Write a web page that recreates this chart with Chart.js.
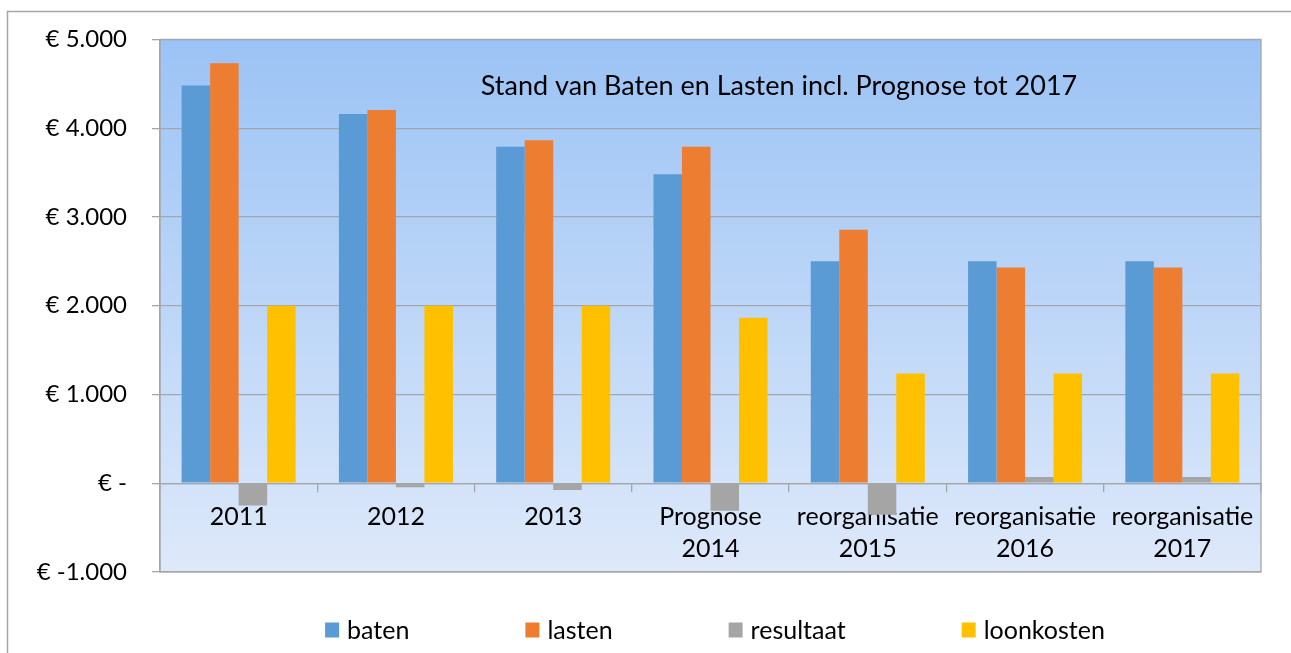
<!DOCTYPE html>
<html>
<head>
<meta charset="utf-8">
<script src="https://cdn.jsdelivr.net/npm/chart.js@4/dist/chart.umd.min.js"></script>
<style>
  html, body { margin: 0; padding: 0; background: #fff; overflow: hidden; }
  #wrap { position: absolute; left: 0; top: 0; width: 1291px; height: 653px; }
</style>
</head>
<body>
<div id="wrap"><canvas id="myChart"></canvas></div>
<script>
// data (x 1000 euro)
var categories = ['2011', '2012', '2013', ['Prognose', '2014'], ['reorganisatie', '2015'], ['reorganisatie', '2016'], ['reorganisatie', '2017']];
var baten = [4480, 4160, 3790, 3480, 2500, 2500, 2500];
var lasten = [4730, 4205, 3865, 3790, 2855, 2430, 2430];
var resultaat = [-250, -45, -75, -310, -355, 70, 70];
var loonkosten = [2000, 2000, 2000, 1865, 1235, 1235, 1235];
var yTicks = [-1000, 0, 1000, 2000, 3000, 4000, 5000];
var chartTitle = 'Stand van Baten en Lasten incl. Prognose tot 2017';

var FONT = 'Lato';
var gridColor = '#a3a6ab';

function euro(v) {
  if (v === 0) return '€ -';
  var s = String(Math.abs(v)).replace(/\B(?=(\d{3})+(?!\d))/g, '.');
  return '€ ' + (v < 0 ? '-' : '') + s;
}

// achtergrond, kader en titel
var decor = {
  id: 'decor',
  beforeDraw: function (chart) {
    var c = chart.ctx, a = chart.chartArea;
    c.save();
    // buitenkader (alleen links en boven zichtbaar)
    c.strokeStyle = '#a6a6a6';
    c.lineWidth = 1.5;
    c.beginPath();
    c.moveTo(7.5, chart.height);
    c.lineTo(7.5, 11.5);
    c.lineTo(chart.width, 11.5);
    c.stroke();
    // verloop in plotgebied
    var g = c.createLinearGradient(0, a.top, 0, a.bottom);
    g.addColorStop(0, '#9bc3f5');
    g.addColorStop(1, '#dee9fa');
    c.fillStyle = g;
    c.fillRect(a.left, a.top, a.right - a.left, a.bottom - a.top);
    c.strokeStyle = gridColor;
    c.lineWidth = 1.3;
    c.strokeRect(a.left, a.top, a.right - a.left, a.bottom - a.top);
    c.restore();
  },
  afterDraw: function (chart) {
    var c = chart.ctx;
    c.save();
    c.font = '27px ' + FONT;
    c.fillStyle = '#000';
    c.textAlign = 'center';
    c.textBaseline = 'middle';
    c.fillText(chartTitle, 779, 86);

    // legenda onderaan
    c.font = '25px ' + FONT;
    var items = chart.data.datasets.map(function (d) {
      return { text: d.label, color: d.backgroundColor, w: c.measureText(d.label).width };
    });
    var box = 14, gapText = 8, gapItem = 116;
    var total = 0;
    items.forEach(function (it, i) {
      total += box + gapText + it.w + (i ? gapItem : 0);
    });
    var x = 715 - total / 2, y = 630;
    c.textAlign = 'left';
    items.forEach(function (it) {
      c.fillStyle = it.color;
      c.fillRect(x, y - 7.5, box, 15);
      c.fillStyle = '#000';
      c.fillText(it.text, x + box + gapText, y + 1);
      x += box + gapText + it.w + gapItem;
    });
    c.restore();
  }
};

var ctx = document.getElementById('myChart').getContext('2d');

var data = {
  labels: categories,
  datasets: [
    { label: 'baten', data: baten, backgroundColor: '#5b9bd5' },
    { label: 'lasten', data: lasten, backgroundColor: '#ed7d31' },
    { label: 'resultaat', data: resultaat, backgroundColor: '#a5a5a5' },
    { label: 'loonkosten', data: loonkosten, backgroundColor: '#ffc000' }
  ]
};

var options = {
  responsive: false,
  animation: false,
  layout: {
    padding: { left: 8, top: 38, right: 30, bottom: 81 }
  },
  datasets: {
    bar: { categoryPercentage: 0.725, barPercentage: 1 }
  },
  scales: {
    x: {
      position: { y: 0 },
      grid: {
        offset: true,
        drawOnChartArea: false,
        tickLength: 8,
        color: gridColor,
        lineWidth: 1.3
      },
      border: { display: true, color: gridColor, width: 1.3 },
      ticks: {
        font: { family: FONT, size: 25, lineHeight: 1.28 },
        color: '#000',
        padding: 10,
        maxRotation: 0,
        autoSkip: false
      }
    },
    y: {
      min: -1000,
      max: 5000,
      afterBuildTicks: function (s) {
        s.ticks = yTicks.map(function (v) { return { value: v }; });
      },
      afterFit: function (s) { s.width = 152; },
      grid: {
        color: gridColor,
        lineWidth: 1.3,
        tickLength: 8
      },
      border: { display: true, color: gridColor, width: 1.3 },
      ticks: {
        font: { family: FONT, size: 24 },
        color: '#000',
        padding: 25,
        callback: function (v) { return euro(v); }
      }
    }
  },
  plugins: {
    legend: { display: false },
    title: { display: false },
    tooltip: { enabled: false }
  }
};

var canvas = document.getElementById('myChart');
canvas.width = 1291;
canvas.height = 653;

var myChart = new Chart(ctx, {
  type: 'bar',
  data: data,
  options: options,
  plugins: [decor]
});
</script>
</body>
</html>
